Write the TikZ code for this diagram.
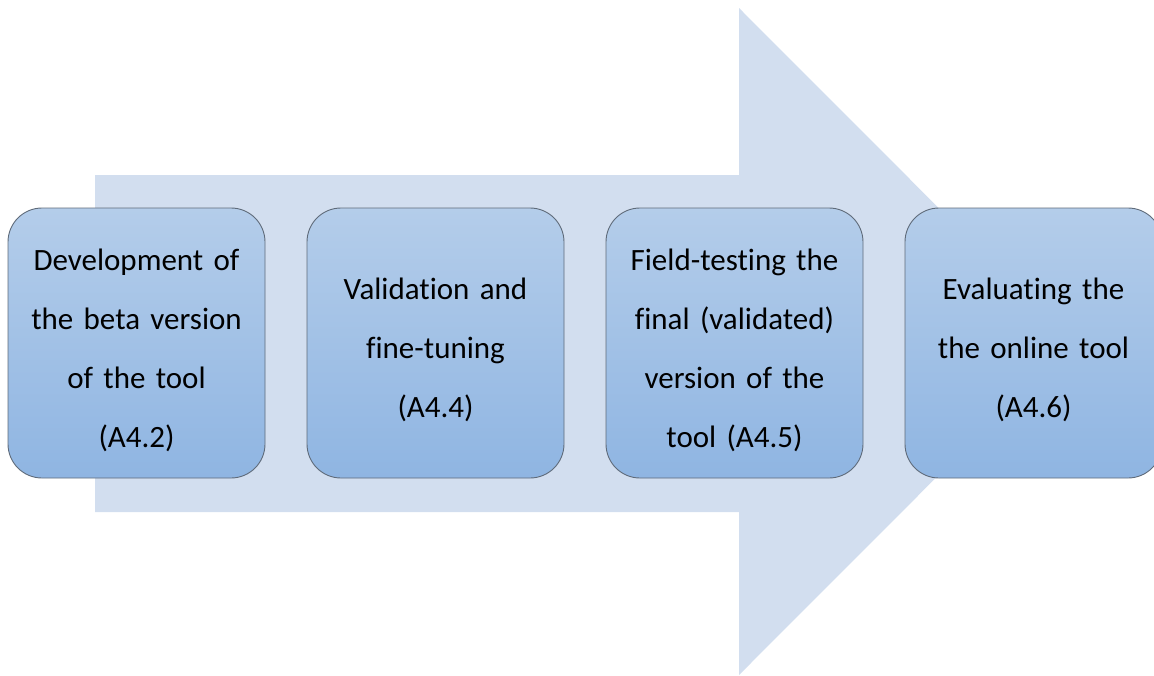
\documentclass[tikz,border=0pt]{standalone}
\usepackage{fontspec}
\setmainfont{Carlito}[Ligatures=NoCommon]
\definecolor{arrowBlue}{HTML}{D2DEEF}
\definecolor{boxTop}{HTML}{B4CDEA}
\definecolor{boxBottom}{HTML}{8FB5E2}
\definecolor{boxLine}{HTML}{5F6B7A}
\begin{document}
\begin{tikzpicture}[
      x=1pt,y=-1pt,
      stepBox/.style={rectangle,rounded corners=34pt,draw=boxLine,line width=0.9pt,
        top color=boxTop,bottom color=boxBottom,
        minimum width=257pt,minimum height=270pt,text width=250pt,align=center,
        inner sep=0pt,font=\fontsize{31}{59}\selectfont,
        execute at begin node={\rule{0pt}{36pt}}},
      bigArrow/.style={fill=arrowBlue},
    ]

    \useasboundingbox (0,0) rectangle (1154,675);

    % background arrow
    \fill[bigArrow] (95,175) -- (739,175) -- (739,8) -- (1072,341.5)
      -- (739,675) -- (739,512) -- (95,512) -- cycle;

    \node[stepBox] (beta) at (136.5,343) {Development of\\the beta version\\of the tool\\(A4.2)};
    \node[stepBox] (valid) at (435.5,343) {Validation and\\fine-tuning\\(A4.4)};
    \node[stepBox] (field) at (734.5,343) {Field-testing the\\final (validated)\\version of the\\tool (A4.5)};
    \node[stepBox] (evalu) at (1033.5,343) {Evaluating the\\the online tool\\(A4.6)};

	\end{tikzpicture}
\end{document}
